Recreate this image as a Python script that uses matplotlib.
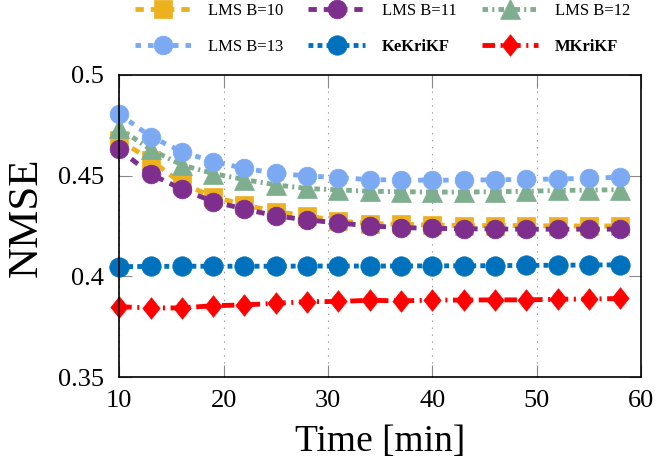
import matplotlib
matplotlib.use("Agg")
import matplotlib.pyplot as plt
import numpy as np
from matplotlib.path import Path

plt.rcParams['font.family'] = ['Liberation Serif', 'DejaVu Serif']
plt.rcParams['lines.scale_dashes'] = False

time_min = [10, 13, 16, 19, 22, 25, 28, 31, 34, 37, 40, 43, 46, 49, 52, 55, 58]
lms_b10 = [0.4677, 0.4578, 0.4460, 0.4396, 0.4354, 0.4321, 0.4300, 0.4275, 0.4262, 0.4258, 0.4255, 0.4252, 0.4252, 0.4252, 0.4250, 0.4250, 0.4250]
lms_b11 = [0.4630, 0.4508, 0.4432, 0.4371, 0.4334, 0.4300, 0.4280, 0.4265, 0.4250, 0.4242, 0.4238, 0.4236, 0.4235, 0.4234, 0.4234, 0.4234, 0.4234]
lms_b12 = [0.4735, 0.4630, 0.4553, 0.4510, 0.4480, 0.4454, 0.4436, 0.4429, 0.4422, 0.4420, 0.4418, 0.4418, 0.4420, 0.4422, 0.4426, 0.4428, 0.4430]
lms_b13 = [0.4806, 0.4694, 0.4619, 0.4569, 0.4536, 0.4512, 0.4498, 0.4490, 0.4480, 0.4478, 0.4477, 0.4478, 0.4479, 0.4481, 0.4483, 0.4487, 0.4492]
kekrikf = [0.4048, 0.4049, 0.4050, 0.4050, 0.4050, 0.4050, 0.4051, 0.4051, 0.4051, 0.4051, 0.4052, 0.4052, 0.4053, 0.4054, 0.4055, 0.4056, 0.4057]
mkrikf = [0.3849, 0.3843, 0.3843, 0.3854, 0.3858, 0.3866, 0.3874, 0.3875, 0.3881, 0.3878, 0.3882, 0.3882, 0.3883, 0.3883, 0.3886, 0.3887, 0.3890]

labels = ['LMS B=10', 'LMS B=11', 'LMS B=12', 'LMS B=13', 'KeKriKF', 'MKriKF']
xticks = [10, 20, 30, 40, 50, 60]
yticks = [0.35, 0.4, 0.45, 0.5]
ytick_labels = ['0.35', '0.4', '0.45', '0.5']

diamond = Path([(0, 1), (0.8, 0), (0, -1), (-0.8, 0), (0, 1)],
               [Path.MOVETO, Path.LINETO, Path.LINETO, Path.LINETO, Path.CLOSEPOLY])

styles = [
    dict(color='#EDB120', marker='s', ms=13, dashes=(6, 5)),
    dict(color='#7E2F8E', marker='o', ms=13.5, dashes=(6, 5)),
    dict(color='#7FAE8E', marker='^', ms=14, dashes=(4, 3, 1.5, 3)),
    dict(color='#7BAAF2', marker='o', ms=13.5, dashes=(4, 5)),
    dict(color='#0072BD', marker='o', ms=14, dashes=(3.5, 3)),
    dict(color='#FF0000', marker=diamond, ms=15.5, dashes=(9, 4, 1.5, 4)),
]
series = [lms_b10, lms_b11, lms_b12, lms_b13, kekrikf, mkrikf]

fig = plt.figure(figsize=(6.55, 4.68), dpi=100)
ax = fig.add_axes([0.182, 0.1944, 0.797, 0.6456])

handles = []
for y, st, lab in zip(series, styles, labels):
    h, = ax.plot(time_min, y, color=st['color'], lw=3.5, dashes=st['dashes'],
                 marker=st['marker'], markersize=st['ms'],
                 markerfacecolor=st['color'], markeredgecolor=st['color'],
                 markeredgewidth=0.5, label=lab, clip_on=False)
    handles.append(h)

ax.set_xlim(10, 60)
ax.set_ylim(0.35, 0.5)
ax.set_xticks(xticks)
ax.set_yticks(yticks)
ax.set_yticklabels(ytick_labels)
ax.tick_params(direction='in', length=9, width=0.8, color='#888888',
               labelsize=19, top=True, right=True)
ax.tick_params(axis='x', pad=9)
ax.tick_params(axis='y', pad=11)
for s in ax.spines.values():
    s.set_linewidth(1.2)
ax.xaxis.grid(True, linestyle=(0, (1, 4)), color='#999999', linewidth=0.8)
ax.set_axisbelow(True)

ax.set_xlabel('Time [min]', fontsize=27, labelpad=9)
ax.set_ylabel('NMSE', fontsize=31, labelpad=8)
ax.yaxis.set_label_coords(-0.14, 0.53)

order = [0, 3, 1, 4, 2, 5]
leg = fig.legend([handles[i] for i in order], [labels[i] for i in order],
                 ncol=3, loc='upper left', bbox_to_anchor=(0.183, 1.025),
                 frameon=False, fontsize=12, numpoints=1, handlelength=3.4,
                 handletextpad=1.0, columnspacing=1.5, labelspacing=1.2)
for t in leg.get_texts():
    if t.get_text() in ('KeKriKF', 'MKriKF'):
        t.set_fontweight('bold')

fig.savefig('out.png', dpi=100)
